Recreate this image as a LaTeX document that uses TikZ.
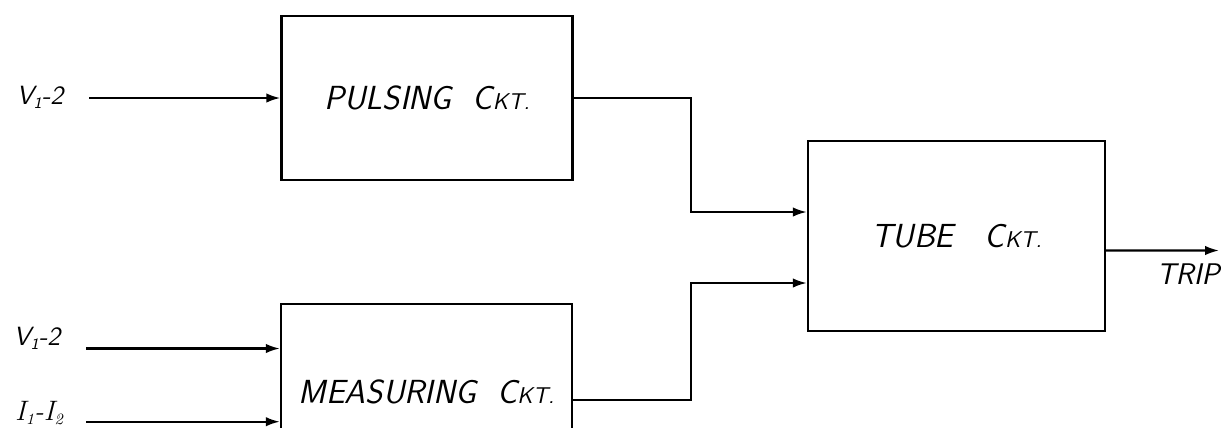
\documentclass[tikz,border=0pt]{standalone}
\usepackage{fontspec}
\usetikzlibrary{arrows.meta}
\newcommand{\lowix}[1]{\raisebox{-0.35ex}{\small #1}}
\begin{document}
\begin{tikzpicture}[x=0.02cm,y=-0.02cm,
		blk/.style={draw,line width=1.4pt,rectangle,font=\sffamily\itshape\fontsize{19}{21}\selectfont\addfontfeature{LetterSpace=15}},
		sig/.style={line width=1.2pt,-{Latex[length=2.8mm,width=1.9mm]}},
		lbl/.style={font=\sffamily\itshape\fontsize{15}{17}\selectfont}]
				\useasboundingbox (0,0) rectangle (1221,427);
				\clip (0,0) rectangle (1221,427);
				\node[blk,minimum width=5.82cm,minimum height=3.28cm] (pulse) at (427,98) {PULSING\ \ C{\fontsize{13}{15}\selectfont KT.}};
				\node[blk,minimum width=5.82cm,minimum height=3.52cm] (meas) at (426.5,392) {MEASURING\ \ C{\fontsize{13}{15}\selectfont KT.}};
				\node[blk,minimum width=5.94cm,minimum height=3.8cm] (tube) at (956.5,236) {TUBE\ \ \ C{\fontsize{13}{15}\selectfont KT.}};
				\node[lbl] (v1) at (40,97) {V\lowix{1}-2};
				\node[lbl] (v2) at (37,338) {V\lowix{1}-2};
				\node[lbl,font=\itshape\fontsize{16}{18}\selectfont] (i12) at (39,413) {I\lowix{1}-I\lowix{2}};
				\coordinate (a1) at (89,98);
				\coordinate (b1) at (86,348.5);
				\coordinate (b2) at (86,421.7);
				\draw[sig] (a1) -- (a1 -| pulse.west);
				\draw[sig] (b1) -- (b1 -| meas.west);
				\draw[sig] (b2) -- (b2 -| meas.west);
				\coordinate (k1) at (691,212);
				\coordinate (k2) at (691,283);
				\draw[sig] (pulse.east) -| (k1) -- (k1 -| tube.west);
				\draw[sig] ([yshift=-0.16cm]meas.east) -| (k2) -- (k2 -| tube.west);
				\coordinate (trip) at (1219,250.5);
				\draw[sig] ([yshift=-0.29cm]tube.east) -- (trip);
				\node[lbl,font=\sffamily\itshape\fontsize{17}{19}\selectfont] (triplbl) at (1188,274) {TRIP};
			\end{tikzpicture}
\end{document}
